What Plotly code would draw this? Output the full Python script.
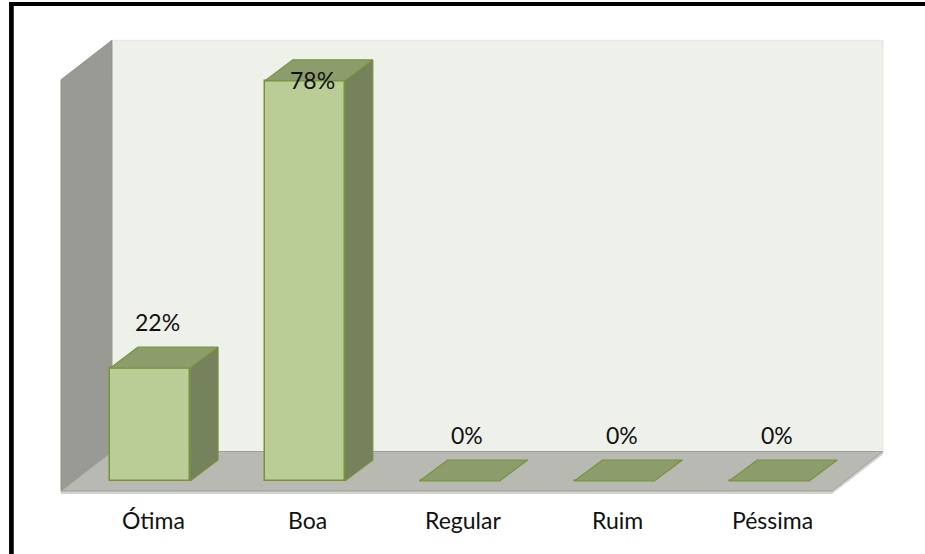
import plotly.graph_objects as go

# ---------------- data ----------------
categories = ["Ótima", "Boa", "Regular", "Ruim", "Péssima"]
values = [22, 78, 0, 0, 0]
value_labels = ["22%", "78%", "0%", "0%", "0%"]

# ---------------- styling / geometry constants ----------------
W, H = 925, 554
X0_PX, SX = 150.0, 154.8     # pixel of first category centre, pixels per category
Y0_PX, SY = 481.0, 5.13      # pixel of 0 %, pixels per percent

BAR_W = 0.517                 # bar width (category units)
BAR_DX, BAR_DY = 0.181, 4.09  # bar depth offset

FLOOR_FRONT_Y = -1.95
FLOOR_LEFT_X, FLOOR_RIGHT_X = -0.575, 4.406
WALL_DX, WALL_DY = 0.329, 7.7
WALL_TOP_Y = 78.2
FLOOR_EDGE = 0.6

LABEL_GAP = 9.0
LABEL_DX = 0.05
CAT_LABEL_Y = -7.6
CAT_LABEL_DX = 0.02

FRONT = "#BBCD97"
SIDE = "#75825C"
TOP = "#8C9D6B"
EDGE = "#76933C"
BACK_WALL = "#EEF1EA"
SIDE_WALL = "#989A93"
FLOOR = "#B7B9B2"
FLOOR_STRIP = "#D3D4D0"
FONT = "Lato"
FONT_SIZE = 23

x_range = [(0 - X0_PX) / SX, (W - X0_PX) / SX]
y_range = [(Y0_PX - H) / SY, Y0_PX / SY]

xs = list(range(len(categories)))

fig = go.Figure()


def poly(pts):
    return "M " + " L ".join(f"{x},{y}" for x, y in pts) + " Z"


# ---------------- walls & floor (below traces) ----------------
fl, fr, ff = FLOOR_LEFT_X, FLOOR_RIGHT_X, FLOOR_FRONT_Y
shapes = []
# back wall
shapes.append(dict(type="path", layer="below", xref="x", yref="y",
                   path=poly([(fl + WALL_DX, ff + WALL_DY), (fr + WALL_DX, ff + WALL_DY),
                              (fr + WALL_DX, WALL_TOP_Y + WALL_DY), (fl + WALL_DX, WALL_TOP_Y + WALL_DY)]),
                   fillcolor=BACK_WALL, line=dict(color="#E3E6DF", width=1)))
# side wall
shapes.append(dict(type="path", layer="below", xref="x", yref="y",
                   path=poly([(fl, ff), (fl, WALL_TOP_Y), (fl + WALL_DX, WALL_TOP_Y + WALL_DY),
                              (fl + WALL_DX, ff + WALL_DY)]),
                   fillcolor=SIDE_WALL, line=dict(color="#90928B", width=1)))
# floor front strip
shapes.append(dict(type="path", layer="below", xref="x", yref="y",
                   path=poly([(fl, ff), (fr, ff), (fr + WALL_DX, ff + WALL_DY),
                              (fr + WALL_DX, ff + WALL_DY - FLOOR_EDGE), (fr, ff - FLOOR_EDGE),
                              (fl, ff - FLOOR_EDGE)]),
                   fillcolor=FLOOR_STRIP, line=dict(width=0)))
# floor
shapes.append(dict(type="path", layer="below", xref="x", yref="y",
                   path=poly([(fl, ff), (fr, ff), (fr + WALL_DX, ff + WALL_DY), (fl + WALL_DX, ff + WALL_DY)]),
                   fillcolor=FLOOR, line=dict(color="#9C9E97", width=1)))

# outer frame (top & left only)
shapes.append(dict(type="line", xref="paper", yref="paper",
                   x0=9 / W, x1=1, y0=1 - 4 / H, y1=1 - 4 / H,
                   line=dict(color="black", width=4)))
shapes.append(dict(type="line", xref="paper", yref="paper",
                   x0=11.4 / W, x1=11.4 / W, y0=0, y1=1 - 2 / H,
                   line=dict(color="black", width=4.7)))

# ---------------- bars: front faces ----------------
fig.add_trace(go.Bar(x=xs, y=values, width=BAR_W,
                     marker=dict(color=FRONT, line=dict(color=EDGE, width=1.5)),
                     hoverinfo="skip", showlegend=False))

# ---------------- bars: side and top faces ----------------
for xi, v in zip(xs, values):
    l, r = xi - BAR_W / 2, xi + BAR_W / 2
    if v > 0:
        side = [(r, 0), (r + BAR_DX, BAR_DY), (r + BAR_DX, v + BAR_DY), (r, v), (r, 0)]
        fig.add_trace(go.Scatter(x=[p[0] for p in side], y=[p[1] for p in side],
                                 mode="lines", fill="toself", fillcolor=SIDE,
                                 line=dict(color=EDGE, width=1.2),
                                 hoverinfo="skip", showlegend=False))
    top = [(l, v), (r, v), (r + BAR_DX, v + BAR_DY), (l + BAR_DX, v + BAR_DY), (l, v)]
    fig.add_trace(go.Scatter(x=[p[0] for p in top], y=[p[1] for p in top],
                             mode="lines", fill="toself", fillcolor=TOP,
                             line=dict(color=EDGE, width=1.2),
                             hoverinfo="skip", showlegend=False))

# ---------------- labels ----------------
annotations = []
for xi, v, lab in zip(xs, values, value_labels):
    annotations.append(dict(x=xi + LABEL_DX, y=min(v + LABEL_GAP, WALL_TOP_Y), xref="x", yref="y",
                            text=lab, showarrow=False, yanchor="middle", xanchor="center",
                            font=dict(family=FONT, size=FONT_SIZE, color="#111111")))
for xi, c in zip(xs, categories):
    annotations.append(dict(x=xi + CAT_LABEL_DX, y=CAT_LABEL_Y, xref="x", yref="y",
                            text=c, showarrow=False, yanchor="middle", xanchor="center",
                            font=dict(family=FONT, size=FONT_SIZE, color="#111111")))

fig.update_layout(
    width=W, height=H,
    margin=dict(l=0, r=0, t=0, b=0),
    paper_bgcolor="white", plot_bgcolor="white",
    xaxis=dict(range=x_range, visible=False, fixedrange=True),
    yaxis=dict(range=y_range, visible=False, fixedrange=True),
    shapes=shapes, annotations=annotations,
    bargap=0,
)

fig.write_html("out.html")
